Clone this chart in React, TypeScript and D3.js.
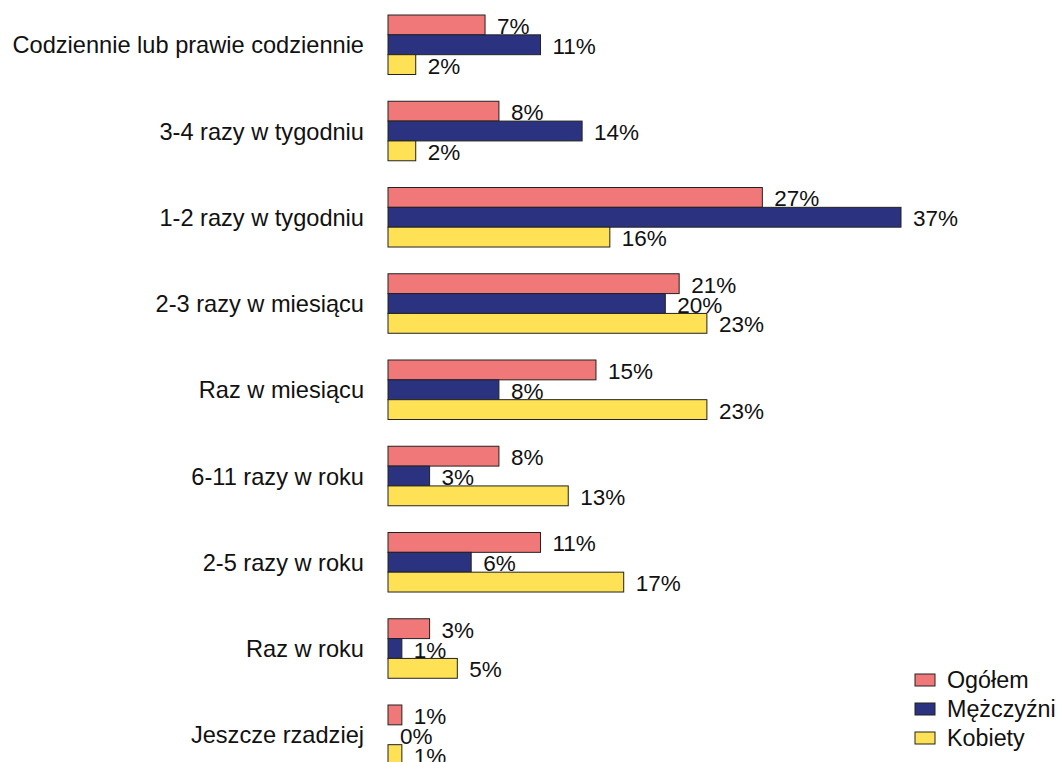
import * as d3 from 'd3';

const categories = [
  'Codziennie lub prawie codziennie',
  '3-4 razy w tygodniu',
  '1-2 razy w tygodniu',
  '2-3 razy w miesiącu',
  'Raz w miesiącu',
  '6-11 razy w roku',
  '2-5 razy w roku',
  'Raz w roku',
  'Jeszcze rzadziej',
];

const seriesNames = ['Ogółem', 'Mężczyźni', 'Kobiety'];
const ogolem = [7, 8, 27, 21, 15, 8, 11, 3, 1];
const mezczyzni = [11, 14, 37, 20, 8, 3, 6, 1, 0];
const kobiety = [2, 2, 16, 23, 23, 13, 17, 5, 1];
const seriesValues = [ogolem, mezczyzni, kobiety];
const seriesColors = ['#F07878', '#2B3380', '#FFE155'];

const width = 1059;
const height = 762;
const font = 'Arial, "Liberation Sans", sans-serif';

export default function App() {
  // x: 0% at 388px, 37% at 901px
  const x = d3.scaleLinear().domain([0, 37]).range([388, 901]);

  const step = 86.25;
  const gap = 0.31;
  const top = 15 - step * (gap / 2);
  const y = d3
    .scaleBand<string>()
    .domain(categories)
    .range([top, top + step * categories.length])
    .paddingInner(gap)
    .paddingOuter(gap / 2);

  const ySub = d3.scaleBand<string>().domain(seriesNames).range([0, y.bandwidth()]);

  return (
    <svg
      width={width}
      height={height}
      style={{ position: 'fixed', left: 0, top: 0, background: '#fff' }}
      fontFamily={font}
    >
      {categories.map((cat, i) => {
        const y0 = y(cat) || 0;
        return (
          <g key={cat}>
            <text
              x={364}
              y={y0 + y.bandwidth() / 2}
              dy="0.36em"
              textAnchor="end"
              fontSize={23.6}
              fill="#111"
            >
              {cat}
            </text>
            {seriesNames.map((s, j) => {
              const v = seriesValues[j][i];
              const by = y0 + (ySub(s) || 0);
              const bh = ySub.bandwidth();
              return (
                <g key={s}>
                  {v > 0 && (
                    <rect
                      x={x(0)}
                      y={by}
                      width={x(v) - x(0)}
                      height={bh}
                      fill={seriesColors[j]}
                      stroke="#222"
                      strokeWidth={1}
                    />
                  )}
                  <text
                    x={x(v) + 12}
                    y={by + bh / 2 + 9}
                    fontSize={22.5}
                    fill="#111"
                  >
                    {`${v}%`}
                  </text>
                </g>
              );
            })}
          </g>
        );
      })}

      {seriesNames.map((s, j) => {
        const cy = 680 + j * 29;
        return (
          <g key={s}>
            <rect
              x={915}
              y={cy - 6}
              width={20}
              height={12}
              fill={seriesColors[j]}
              stroke="#222"
              strokeWidth={1}
            />
            <text x={947} y={cy} dy="0.36em" fontSize={23.3} fill="#111">
              {s}
            </text>
          </g>
        );
      })}
    </svg>
  );
}
